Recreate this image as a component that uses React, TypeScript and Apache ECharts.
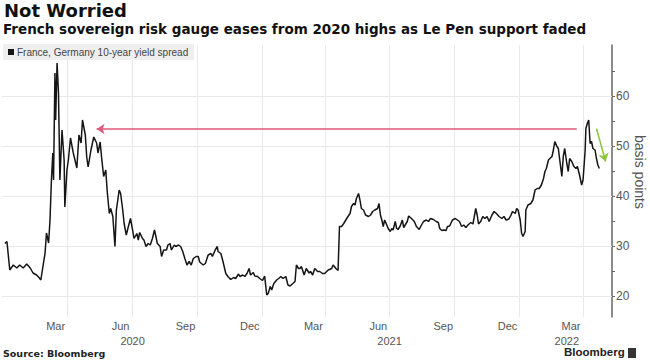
import React, { useEffect, useRef } from 'react';
import * as echarts from 'echarts';

const DAY = 86400000;
// day offsets below are counted from 1 April 2020 (UTC)
const EPOCH = Date.UTC(2020, 3, 1);

const days2020 = [-89, -86, -82, -77, -72, -68, -63, -58, -53, -49, -44, -40, -38, -35, -32, -30, -27, -25, -23, -21, -20, -18, -17, -15, -13, -11, -8, -5, -4, -1, 1, 4, 8, 13, 16, 19, 21, 25, 27, 29, 33, 37, 41, 43, 46, 48, 51, 54, 56, 59, 61, 64, 67, 69, 73, 75, 78, 80, 83, 86, 89, 92, 94, 98, 100, 102, 106, 108, 111, 114, 117, 120, 123, 125, 127, 131, 133, 136, 140, 142, 145, 147, 151, 153, 157, 160, 163, 166, 169, 172, 175, 178, 182, 185, 187, 192, 195, 199, 203, 205, 209, 212, 213, 217, 220, 224, 227, 231, 235, 238, 242, 244, 248, 251, 254, 257, 259, 263, 265, 269, 272];
const spread2020 = [30.5, 30.9, 25.2, 26.2, 25.6, 26.2, 25.6, 26.4, 25.6, 24.6, 24.2, 23.6, 23.2, 25.9, 28.6, 32.6, 30.6, 35.2, 43.2, 48.6, 43.2, 64.6, 55.2, 66.6, 60.6, 43.2, 53.2, 47.2, 37.8, 45.2, 47.2, 51.6, 48.6, 45.6, 52.2, 50.6, 55.2, 52.2, 47.8, 45.8, 49.2, 51.8, 50.6, 48.6, 50.8, 47.8, 43.9, 45.2, 41.0, 36.5, 37.5, 35.9, 29.9, 37.2, 41.2, 40.5, 37.2, 34.5, 32.2, 33.9, 35.5, 33.2, 31.5, 32.5, 31.2, 32.7, 31.5, 31.2, 29.9, 30.5, 30.2, 31.5, 33.2, 31.9, 30.5, 29.9, 27.9, 29.2, 29.2, 30.2, 30.5, 29.2, 30.2, 29.9, 30.2, 29.9, 28.9, 27.5, 26.2, 26.9, 26.2, 27.5, 27.9, 27.9, 26.8, 26.2, 26.5, 28.2, 28.5, 27.9, 29.2, 29.9, 28.9, 28.5, 26.9, 24.5, 23.9, 23.3, 23.7, 23.5, 24.4, 23.9, 24.2, 23.9, 24.5, 25.5, 24.2, 24.7, 24.0, 23.9, 23.5];

const days2021 = [276, 279, 282, 284, 287, 289, 292, 296, 299, 302, 305, 309, 312, 315, 319, 322, 324, 327, 329, 331, 335, 338, 342, 344, 347, 350, 354, 357, 361, 364, 369, 374, 376, 380, 383, 385, 388, 391, 394, 397, 400, 402, 405, 407, 409, 412, 414, 416, 419, 422, 426, 429, 432, 435, 439, 441, 443, 445, 447, 449, 452, 454, 457, 459, 461, 464, 466, 468, 471, 474, 476, 481, 483, 487, 491, 494, 498, 500, 504, 508, 511, 514, 518, 522, 525, 527, 530, 533, 536, 538, 541, 545, 549, 552, 555, 558, 561, 564, 567, 571, 574, 576, 578, 580, 582, 585, 588, 591, 594, 597, 601, 604, 608, 611, 615, 618, 621, 625, 628, 630, 634, 636, 638];
const spread2021 = [23.1, 24.0, 20.2, 20.5, 21.9, 21.2, 22.5, 23.2, 23.5, 23.9, 23.5, 23.9, 22.2, 22.0, 22.5, 22.9, 26.2, 25.5, 25.5, 25.9, 24.2, 25.5, 24.6, 24.9, 24.2, 25.5, 24.9, 24.9, 24.5, 24.5, 25.2, 25.5, 26.2, 25.5, 25.1, 33.9, 33.9, 34.5, 35.2, 35.9, 36.5, 37.9, 38.5, 38.2, 39.5, 40.5, 39.2, 37.5, 37.2, 36.2, 35.9, 36.2, 36.9, 37.2, 37.5, 38.5, 36.2, 35.2, 33.9, 35.2, 34.2, 33.5, 32.9, 33.5, 33.2, 34.9, 33.5, 33.3, 34.0, 35.2, 33.7, 34.9, 36.0, 35.5, 34.9, 33.9, 33.3, 33.9, 34.9, 35.2, 34.9, 35.5, 35.3, 34.9, 34.7, 33.5, 33.1, 33.2, 33.1, 33.9, 34.0, 35.2, 35.5, 35.2, 34.9, 33.9, 34.2, 33.7, 34.2, 34.7, 34.4, 35.9, 37.5, 36.2, 34.4, 34.9, 35.9, 35.5, 35.9, 34.9, 36.2, 36.9, 36.4, 35.9, 35.5, 35.9, 35.2, 35.4, 36.2, 36.9, 36.5, 37.5, 37.2];

const days2022 = [641, 643, 645, 648, 649, 652, 656, 659, 662, 665, 668, 671, 674, 676, 678, 681, 683, 686, 688, 690, 693, 695, 697, 700, 702, 704, 707, 709, 711, 714, 717, 720, 722, 725, 728, 730, 733, 734, 736, 738, 740, 742, 744, 747, 749, 751, 753];
const spread2022 = [35.2, 32.5, 31.9, 32.9, 37.2, 38.2, 38.5, 39.2, 41.2, 41.5, 41.5, 42.2, 43.5, 44.9, 45.5, 47.2, 47.5, 47.9, 49.2, 50.9, 49.9, 49.5, 47.2, 43.9, 47.9, 49.5, 46.5, 44.9, 47.5, 46.9, 45.9, 45.5, 45.9, 44.2, 42.2, 43.2, 49.2, 53.5, 54.5, 55.2, 50.5, 50.9, 49.5, 49.2, 47.5, 46.2, 45.5];

const yTickValues = [20, 25, 30, 35, 40, 45, 50, 55, 60, 65];
const yLabelValues = [20, 30, 40, 50, 60];
const quarterStarts = ['2020-04-01', '2020-07-01', '2020-10-01', '2021-01-01', '2021-04-01', '2021-07-01', '2021-10-01', '2022-01-01', '2022-04-01'];
const monthLabelDates = ['2020-03-15', '2020-06-15', '2020-09-15', '2020-12-15', '2021-03-15', '2021-06-15', '2021-09-15', '2021-12-15', '2022-03-15'];
const yearLabelDates = ['2020-07-02', '2021-07-01', '2022-03-09'];
const MONTHS = ['Jan', 'Feb', 'Mar', 'Apr', 'May', 'Jun', 'Jul', 'Aug', 'Sep', 'Oct', 'Nov', 'Dec'];

// arrow annotations: [startDay, startValue, endDay, endValue]
const redArrow = [721, 53.4, 41, 53.4];
const greenArrow = [749, 53.5, 762, 46.9];

const SERIES_NAME = 'France, Germany 10-year yield spread';
const FONT = '"Liberation Sans", Arial, sans-serif';
const HEAD_FONT = '"DejaVu Sans", Verdana, sans-serif';

const toDay = (iso: string) => Math.round((Date.parse(iso) - EPOCH) / DAY);
const toDate = (d: number) => new Date(EPOCH + Math.round(d) * DAY);
const seg = (days: number[], vals: number[]) => days.map((d, i) => [d, vals[i]]);

export default function App() {
  const ref = useRef<HTMLDivElement>(null);
  useEffect(() => {
    document.body.style.margin = '0';
    const chart = echarts.init(ref.current!, null, { renderer: 'svg' });
    const data = [...seg(days2020, spread2020), ...seg(days2021, spread2021), ...seg(days2022, spread2022)];
    const xMin = -93;
    const xMax = 771;
    chart.setOption({
      animation: false,
      backgroundColor: '#ffffff',
      textStyle: { fontFamily: FONT },
      grid: { left: 2, right: 38, top: 45, bottom: 44 },
      legend: {
        data: [SERIES_NAME],
        left: 3,
        top: 44,
        backgroundColor: '#efefef',
        padding: [3, 6, 3, 5],
        icon: 'rect',
        itemWidth: 6,
        itemHeight: 6,
        itemGap: 4,
        textStyle: { fontSize: 10, color: '#444', fontFamily: FONT, padding: [0, 0, 0, -2] },
      },
      xAxis: [
        {
          type: 'value',
          min: xMin,
          max: xMax,
          axisLine: { show: false, onZero: false },
          axisTick: { show: false },
          splitLine: { show: false },
          axisLabel: {
            customValues: monthLabelDates.map(toDay),
            formatter: (v: number) => MONTHS[toDate(v).getUTCMonth()],
            color: '#555',
            fontSize: 11,
            margin: 3,
            fontFamily: FONT,
          },
        },
        {
          type: 'value',
          min: xMin,
          max: xMax,
          position: 'bottom',
          offset: 15,
          axisLine: { show: false, onZero: false },
          axisTick: { show: false },
          splitLine: { show: false },
          axisLabel: {
            customValues: yearLabelDates.map(toDay),
            formatter: (v: number) => String(toDate(v).getUTCFullYear()),
            color: '#555',
            fontSize: 11,
            margin: 3,
            fontFamily: FONT,
          },
        },
      ],
      yAxis: {
        type: 'value',
        position: 'right',
        min: 15.8,
        max: 70.2,
        axisLine: { show: true, onZero: false, lineStyle: { color: '#666', width: 1.5 } },
        axisTick: { show: true, customValues: yTickValues, length: 3, lineStyle: { color: '#666' } },
        axisLabel: { customValues: yLabelValues, color: '#555', fontSize: 12, margin: 4, fontFamily: FONT },
        splitLine: { show: false },
      },
      series: [
        {
          name: SERIES_NAME,
          type: 'line',
          data,
          showSymbol: false,
          symbol: 'none',
          z: 3,
          color: '#151515',
          lineStyle: { color: '#151515', width: 1.5 },
          emphasis: { disabled: true },
          markLine: {
            silent: true,
            z: 1,
            symbol: ['none', 'none'],
            label: { show: false },
            lineStyle: { color: '#e9e9e9', width: 1, type: 'solid' },
            emphasis: { disabled: true },
            data: [
              ...quarterStarts.map((d) => ({ xAxis: toDay(d) })),
              ...yLabelValues.map((v) => ({ yAxis: v })),
            ],
          },
        },
        {
          name: 'annotations',
          type: 'line',
          data: [],
          symbol: 'none',
          markLine: {
            silent: true,
            z: 6,
            symbol: ['none', 'arrow'],
            symbolSize: 8,
            label: { show: false },
            emphasis: { disabled: true },
            data: [
              [
                { coord: [redArrow[0], redArrow[1]], lineStyle: { color: '#e0587a', width: 1.5, type: 'solid' } },
                { coord: [redArrow[2], redArrow[3]] },
              ],
              [
                { coord: [greenArrow[0], greenArrow[1]], lineStyle: { color: '#8cc63f', width: 1.5, type: 'solid' } },
                { coord: [greenArrow[2], greenArrow[3]] },
              ],
            ],
          },
        },
      ],
      graphic: [
        { type: 'text', left: 4, top: 1, style: { text: 'Not Worried', font: `bold 18px ${HEAD_FONT}`, fill: '#111' } },
        {
          type: 'text',
          left: 3,
          top: 22,
          style: { text: 'French sovereign risk gauge eases from 2020 highs as Le Pen support faded', font: `bold 13.5px ${HEAD_FONT}`, fill: '#111' },
        },
        {
          type: 'text',
          x: 640,
          y: 172,
          rotation: -Math.PI / 2,
          style: { text: 'basis points', font: `14px ${FONT}`, fill: '#555', align: 'center', verticalAlign: 'middle', textAlign: 'center', textVerticalAlign: 'middle' },
        },
        { type: 'text', left: 3, top: 348, style: { text: 'Source: Bloomberg', font: `bold 9.5px ${HEAD_FONT}`, fill: '#222' } },
        { type: 'text', left: 564, top: 346, style: { text: 'Bloomberg', font: `bold 11.5px ${FONT}`, fill: '#222' } },
        { type: 'rect', left: 628, top: 348, shape: { width: 8, height: 10 }, style: { fill: '#333' } },
      ],
    });
    return () => chart.dispose();
  }, []);
  return <div ref={ref} style={{ position: 'fixed', left: 0, top: 0, width: 650, height: 361 }} />;
}
